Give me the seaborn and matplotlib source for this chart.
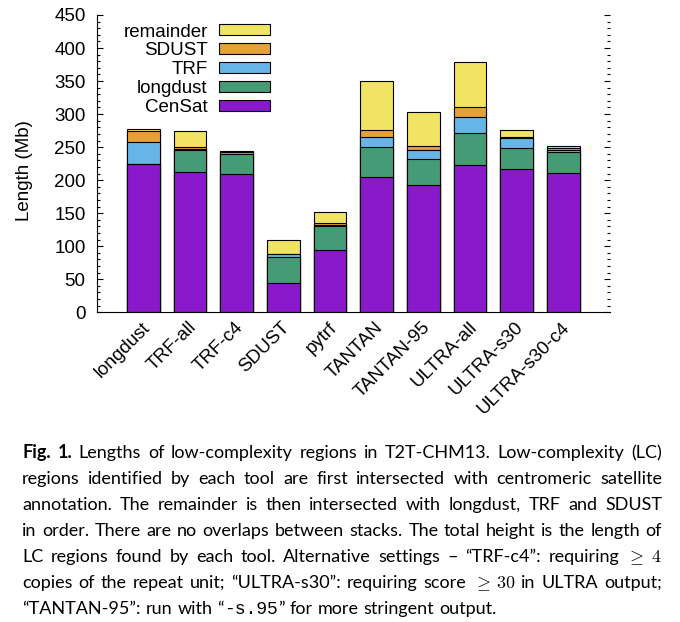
import matplotlib
matplotlib.use("Agg")
import pandas as pd
import matplotlib.pyplot as plt
import seaborn as sns
from matplotlib.patches import Patch
from matplotlib.ticker import MultipleLocator
from matplotlib.transforms import ScaledTranslation

# data (Mb)
tools = ["longdust", "TRF-all", "TRF-c4", "SDUST", "pytrf", "TANTAN",
         "TANTAN-95", "ULTRA-all", "ULTRA-s30", "ULTRA-s30-c4"]
censat = [225, 212, 209, 45, 95, 205, 192, 223, 217, 211]
longdust = [0, 34, 30, 38, 35, 45, 40, 49, 32, 31]
trf = [33, 1, 1, 5, 1.5, 16, 14, 23, 15, 3]
sdust = [16, 3, 3, 0, 4, 10, 6, 15, 2, 3]
remainder = [4, 25, 1, 21, 16, 74, 51, 69, 10, 4]

stack_names = ["CenSat", "longdust", "TRF", "SDUST", "remainder"]
stack_colors = ["#8a19cc", "#469b77", "#67b4e7", "#e4a13a", "#f0e462"]

df = pd.DataFrame({"tool": tools, "CenSat": censat, "longdust": longdust,
                   "TRF": trf, "SDUST": sdust, "remainder": remainder})
cum = df[stack_names].cumsum(axis=1)

sns.set_theme(style="ticks", rc={"axes.edgecolor": "black", "text.color": "black",
                                 "xtick.color": "black", "ytick.color": "black",
                                 "axes.labelcolor": "black"})
plt.rcParams["font.family"] = ["Liberation Sans", "DejaVu Sans"]
plt.rcParams["mathtext.fontset"] = "cm"

fs = 13.5
fig = plt.figure(figsize=(6.8, 6.22), dpi=100)
ax = fig.add_axes([0.1422, 0.4979, 0.7549, 0.478])

# stacked bars: draw cumulative totals from the top layer down
for name, color in reversed(list(zip(stack_names, stack_colors))):
    sns.barplot(x=df["tool"], y=cum[name], color=color, saturation=1, width=0.7,
                edgecolor="black", linewidth=0.8, errorbar=None, ax=ax)

ax.set_xlim(-1, 10)
ax.set_ylim(0, 450)
ax.yaxis.set_major_locator(MultipleLocator(50))
ax.yaxis.set_minor_locator(MultipleLocator(10))
ax.tick_params(axis="y", which="both", direction="in", left=True, right=True,
               width=0.8, labelsize=fs, pad=8)
ax.tick_params(axis="y", which="major", length=4)
ax.tick_params(axis="y", which="minor", length=2)
ax.tick_params(axis="x", length=0, labelsize=fs, pad=9)
for sp in ["top", "right"]:
    ax.spines[sp].set_visible(False)
for sp in ["left", "bottom"]:
    ax.spines[sp].set_linewidth(0.8)

shift = ScaledTranslation(0.04, 0, fig.dpi_scale_trans)
for lbl in ax.get_xticklabels():
    lbl.set_rotation(45)
    lbl.set_ha("right")
    lbl.set_va("center")
    lbl.set_rotation_mode("anchor")
    lbl.set_transform(lbl.get_transform() + shift)

ax.set_xlabel("")
ax.set_ylabel("Length (Mb)", fontsize=fs)
ax.yaxis.set_label_coords(-0.125, 0.478)

handles = [Patch(facecolor=c, edgecolor="black", linewidth=0.8, label=n)
           for n, c in zip(stack_names, stack_colors)][::-1]
ax.legend(handles=handles, loc="upper right", bbox_to_anchor=(0.337, 0.971),
          markerfirst=False, frameon=False, fontsize=fs, handlelength=2.72,
          handleheight=0.53, labelspacing=0.1, handletextpad=0.59,
          borderpad=0, borderaxespad=0)

# caption, justified like the journal text
def words(s):
    return [[(w, "n")] for w in s.split()]

cap_lines = [
    [[("Fig.", "b")], [("1.", "b")]]
    + words("Lengths of low-complexity regions in T2T-CHM13. Low-complexity (LC)"),
    words("regions identified by each tool are first intersected with centromeric satellite"),
    words("annotation. The remainder is then intersected with longdust, TRF and SDUST"),
    words("in order. There are no overlaps between stacks. The total height is the length of"),
    words("LC regions found by each tool. Alternative settings \u2013 \u201cTRF-c4\u201d: requiring")
    + [[(r"$\geq$", "m")], [(r"$4$", "m")]],
    words("copies of the repeat unit; \u201cULTRA-s30\u201d: requiring score")
    + [[(r"$\geq$", "m")], [(r"$30$", "m")]] + words("in ULTRA output;"),
    words("\u201cTANTAN-95\u201d: run with")
    + [[("\u201c", "n"), ("-s.95", "t"), ("\u201d", "n")]]
    + words("for more stringent output."),
]
cap_font = "Lato"
styles = {"n": dict(family=cap_font), "b": dict(family=cap_font, weight="bold"),
          "m": dict(), "t": dict(family="Liberation Mono")}
W, H = 680, 622
x_left, x_right = 22, 662
base0, line_gap = 458, 26.0

fig.canvas.draw()
renderer = fig.canvas.get_renderer()

def build(size):
    out = []
    for line in cap_lines:
        lo = []
        for word in line:
            lo.append([fig.text(0, 0, t, fontsize=size, va="baseline", ha="left", **styles[s])
                       for t, s in word])
        out.append(lo)
    return out

def widths(objs):
    return [[sum(t.get_window_extent(renderer).width for t in w) for w in lo] for lo in objs]

# pick a font size so the widest justified line fits
size = 11
objs = build(size)
ws = widths(objs)
nat = max(sum(w) + (len(w) - 1) * 0.28 * size * 100 / 72 for w in ws[:-1])
for lo in objs:
    for w in lo:
        for t in w:
            t.remove()
size = size * (x_right - x_left) / nat * 0.99
objs = build(size)
ws = widths(objs)
space = 0.28 * size * 100 / 72

for i, (lo, wl) in enumerate(zip(objs, ws)):
    if i < len(objs) - 1:
        gap = (x_right - x_left - sum(wl)) / (len(wl) - 1)
    else:
        gap = space
    x = x_left
    y = 1 - (base0 + i * line_gap) / H
    for w, ww in zip(lo, wl):
        xx = x
        for t in w:
            t.set_position((xx / W, y))
            xx += t.get_window_extent(renderer).width
        x += ww + gap

fig.savefig("out.png", dpi=100)
